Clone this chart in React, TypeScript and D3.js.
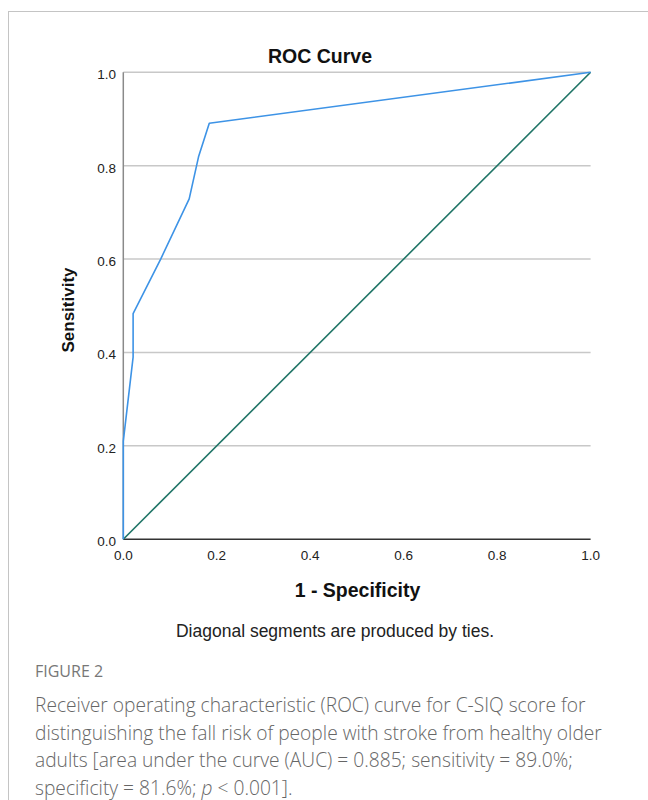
import React from "react";
import * as d3 from "d3";

const rocFpr = [0, 0, 0.021, 0.021, 0.08, 0.141, 0.161, 0.184, 1];
const rocTpr = [0, 0.21, 0.39, 0.483, 0.6, 0.729, 0.819, 0.891, 1];
const diagFpr = [0, 1];
const diagTpr = [0, 1];
const ticks = [0, 0.2, 0.4, 0.6, 0.8, 1.0];
const captionLines = [
  "Receiver operating characteristic (ROC) curve for C-SIQ score for",
  "distinguishing the fall risk of people with stroke from healthy older",
  "adults [area under the curve (AUC) = 0.885; sensitivity = 89.0%;",
];

export default function App() {
  const x = d3.scaleLinear().domain([0, 1]).range([123.3, 590.6]);
  const y = d3.scaleLinear().domain([0, 1]).range([539.2, 72.3]);
  const line = d3
    .line<number>()
    .x((_, i) => x(rocFpr[i]))
    .y((_, i) => y(rocTpr[i]));
  const dline = d3
    .line<number>()
    .x((_, i) => x(diagFpr[i]))
    .y((_, i) => y(diagTpr[i]));
  const arial = "Liberation Sans, Arial, sans-serif";
  const capFont = "'Open Sans', 'Noto Sans', sans-serif";
  return (
    <svg
      width={648}
      height={800}
      style={{ position: "absolute", left: 0, top: 0, background: "#fff" }}
    >
      <rect x={8.5} y={11.5} width={700} height={900} fill="#fff" stroke="#c4c4c4" strokeWidth={1} />
      <text x={320} y={63} textAnchor="middle" fontFamily={arial} fontWeight="bold" fontSize={19.5} fill="#111">
        ROC Curve
      </text>
      {ticks.slice(1).map((t) => (
        <line key={"g" + t} x1={x(0)} x2={x(1)} y1={y(t)} y2={y(t)} stroke="#c8c8c8" strokeWidth={1.5} />
      ))}
      <line x1={x(0)} x2={x(0)} y1={y(0)} y2={y(1)} stroke="#8a8a8a" strokeWidth={1.5} />
      <line x1={x(0)} x2={x(1)} y1={y(0)} y2={y(0)} stroke="#333" strokeWidth={1.5} />
      {ticks.map((t) => (
        <text key={"y" + t} x={116} y={y(t) + 7} textAnchor="end" fontFamily={arial} fontSize={13.5} fill="#222">
          {t.toFixed(1)}
        </text>
      ))}
      {ticks.map((t) => (
        <text key={"x" + t} x={x(t)} y={y(0) + 21} textAnchor="middle" fontFamily={arial} fontSize={13.5} fill="#222">
          {t.toFixed(1)}
        </text>
      ))}
      <path d={dline(diagFpr) || ""} fill="none" stroke="#207567" strokeWidth={1.6} />
      <path d={line(rocFpr) || ""} fill="none" stroke="#3d93e6" strokeWidth={1.6} strokeLinejoin="round" />
      <text x={357.5} y={597} textAnchor="middle" fontFamily={arial} fontWeight="bold" fontSize={19.5} fill="#111">
        1 - Specificity
      </text>
      <text
        transform="translate(74,310) rotate(-90)"
        textAnchor="middle"
        fontFamily={arial}
        fontWeight="bold"
        fontSize={17}
        fill="#111"
      >
        Sensitivity
      </text>
      <text x={335} y={637} textAnchor="middle" fontFamily={arial} fontSize={17.5} fill="#222">
        Diagonal segments are produced by ties.
      </text>
      <text x={35} y={677} fontFamily={capFont} fontSize={16} fill="#777">
        FIGURE 2
      </text>
      {captionLines.map((l, i) => (
        <text key={i} x={35} y={712 + i * 27.5} fontFamily={capFont} fontWeight={300} fontSize={19.2} fill="#666">
          {l}
        </text>
      ))}
      <text x={35} y={712 + 3 * 27.5} fontFamily={capFont} fontWeight={300} fontSize={19.2} fill="#666">
        specificity = 81.6%; <tspan fontStyle="italic">p</tspan> &lt; 0.001].
      </text>
    </svg>
  );
}
